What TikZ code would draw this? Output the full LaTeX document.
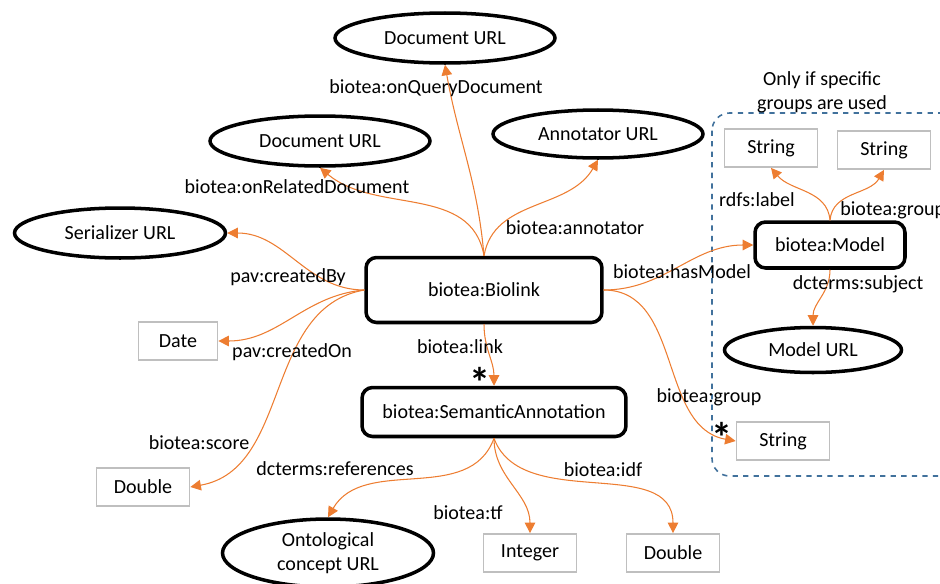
\documentclass[tikz,border=0pt]{standalone}
\usepackage{fontspec}
\setmainfont{Carlito}
\usepackage{tikz}
\usetikzlibrary{arrows.meta,shapes.geometric}

\definecolor{relorange}{RGB}{237,125,49}
\definecolor{litgray}{RGB}{191,191,191}
\definecolor{groupblue}{RGB}{65,113,156}

\tikzset{
	urlnode/.style={draw, ellipse, line width=2pt, inner sep=0pt, align=center},
	classnode/.style={draw, rounded corners=6pt, line width=2pt, inner sep=0pt},
	litnode/.style={draw=litgray, line width=1pt, inner sep=0pt, minimum width=1.86cm, minimum height=0.76cm},
	rel/.style={draw=relorange, line width=0.6pt, -{Triangle[width=6pt,length=6pt]}},
	lbl/.style={inner sep=0pt, align=center},
	starlbl/.style={inner sep=0pt, anchor=base, font=\fontsize{24}{24}\selectfont\bfseries},
}

\begin{document}
\begin{tikzpicture}[x=0.02cm, y=0.02cm, font=\fontsize{11.4}{13.5}\selectfont]
				\useasboundingbox (0,0) rectangle (940,583);
				\draw[groupblue, dashed, line width=0.9pt, rounded corners=10pt] (712,470) rectangle (975,107);
				
				\node[urlnode, minimum width=4.4cm, minimum height=1cm] (docq) at (445,545) {Document URL};
				\node[urlnode, minimum width=4.4cm, minimum height=1cm] (docr) at (320,442) {Document URL};
				\node[urlnode, minimum width=4.2cm, minimum height=0.96cm] (annot) at (598,449) {Annotator URL};
				\node[urlnode, minimum width=4.22cm, minimum height=1cm] (serial) at (120,350) {Serializer URL};
				\node[urlnode, minimum width=4.22cm, minimum height=1.36cm] (onto) at (328,30) {Ontological\\concept URL};
				\node[urlnode, minimum width=3.54cm, minimum height=0.9cm] (modelurl) at (813,233) {Model URL};
				
				\node[classnode, minimum width=4.72cm, minimum height=1.3cm] (biolink) at (484,293) {biotea:Biolink};
				\node[classnode, minimum width=5.28cm, minimum height=0.98cm] (sem) at (494,171) {biotea:SemanticAnnotation};
				\node[classnode, minimum width=3cm, minimum height=0.92cm] (model) at (830,338) {biotea:Model};
				
				\node[litnode, minimum width=1.58cm] (date) at (178,242) {Date};
				\node[litnode] (dblL) at (143,96) {Double};
				\node[litnode] (integer) at (530,30) {Integer};
				\node[litnode] (dblR) at (673,30) {Double};
				\node[litnode] (strG) at (783,142) {String};
				\node[litnode] (str1) at (771,435) {String};
				\node[litnode] (str2) at (884,433) {String};
				
				\node[lbl] (note) at (822,491) {Only if specific\\groups are used};
				
				\draw[rel] (biolink.north) to[out=95, in=-80] (docq.south);
				\draw[rel] (biolink.north) to[out=100, in=-40] (docr.south);
				\draw[rel] (biolink.north) to[out=80, in=-120] (annot.south);
				\draw[rel] (biolink.west) to[out=180, in=0] (serial.east);
				\draw[rel] (biolink.west) to[out=185, in=0] (date.east);
				\draw[rel] (biolink.west) to[out=190, in=10] (dblL.east);
				\draw[rel] (biolink.east) to[out=0, in=180] (model.west);
				\draw[rel] (biolink.east) to[out=0, in=170] (strG.west);
				\draw[rel] (biolink.south) to[out=-90, in=90] (sem.north);
				\draw[rel] (sem.south) to[out=-110, in=60] (onto.north);
				\draw[rel] (sem.south) to[out=-90, in=90] (integer.north);
				\draw[rel] (sem.south) to[out=-70, in=90] (dblR.north);
				\draw[rel] (model.north) to[out=95, in=-50] (str1.south);
				\draw[rel] (model.north) to[out=85, in=-120] (str2.south);
				\draw[rel] (model.south) to[out=-90, in=90] (modelurl.north);
				
				\node[lbl] (lquery) at (436,495) {biotea:onQueryDocument};
				\node[lbl] (lrelated) at (297,396) {biotea:onRelatedDocument};
				\node[lbl] (lannot) at (575,355) {biotea:annotator};
				\node[lbl] (lcreby) at (288,306) {pav:createdBy};
				\node[lbl] (lcreon) at (292,231) {pav:createdOn};
				\node[lbl] (llink) at (460,236) {biotea:link};
				\node[lbl] (lhasmodel) at (682,311) {biotea:hasModel};
				\node[lbl] (lrdfs) at (757,383) {rdfs:label};
				\node[lbl, anchor=west] (lmgroup) at (840,373) {biotea:group};
				\node[lbl] (lsubject) at (858,299) {dcterms:subject};
				\node[lbl] (lgroup) at (709,186) {biotea:group};
				\node[lbl] (lscore) at (199,140) {biotea:score};
				\node[lbl] (lrefs) at (335,114) {dcterms:references};
				\node[lbl] (ltf) at (468,70) {biotea:tf};
				\node[lbl] (lidf) at (603,113) {biotea:idf};
				\node[starlbl] (starlink) at (480,186) {*};
				\node[starlbl] (stargroup) at (722,131) {*};
\end{tikzpicture}
\end{document}
